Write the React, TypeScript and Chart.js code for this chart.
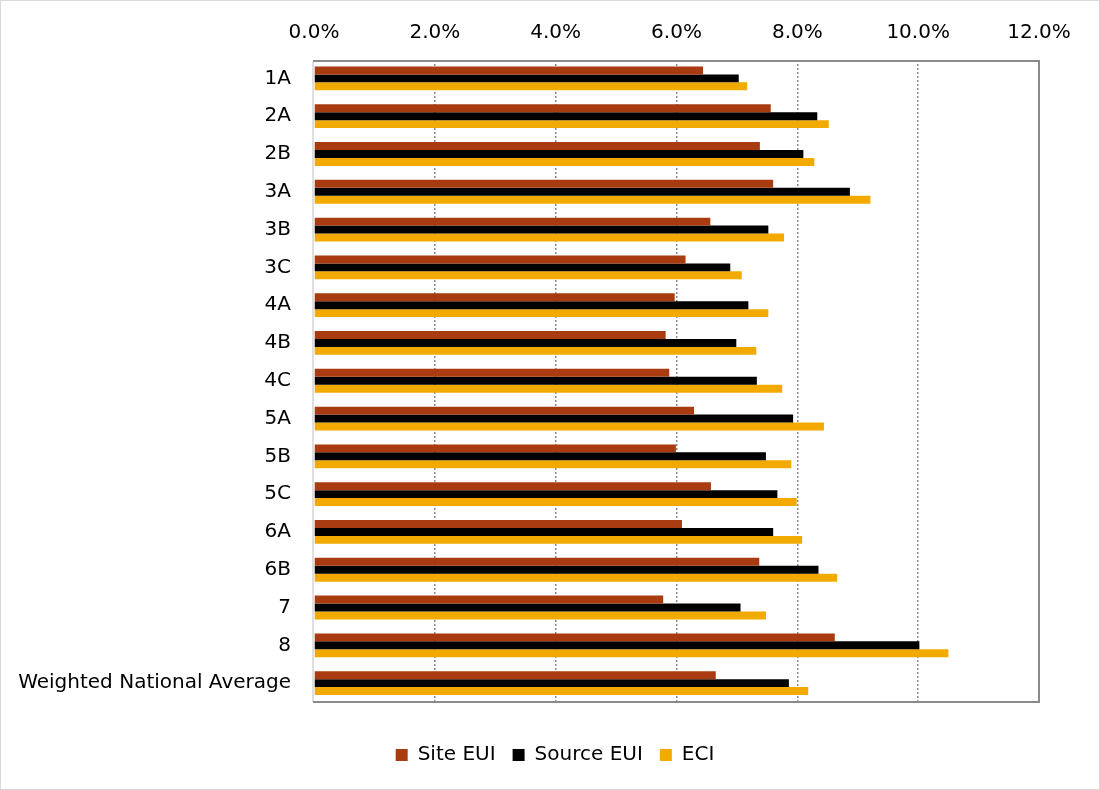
import React, { useEffect, useRef } from "react";
import { Chart, registerables } from "chart.js";

Chart.register(...registerables);

const categories = [
  "1A", "2A", "2B", "3A", "3B", "3C", "4A", "4B", "4C",
  "5A", "5B", "5C", "6A", "6B", "7", "8", "Weighted National Average",
];
const siteEUI = [6.44, 7.56, 7.38, 7.6, 6.56, 6.15, 5.97, 5.82, 5.88, 6.29, 5.99, 6.57, 6.09, 7.37, 5.78, 8.62, 6.65];
const sourceEUI = [7.03, 8.33, 8.1, 8.87, 7.52, 6.89, 7.19, 6.99, 7.33, 7.93, 7.48, 7.67, 7.6, 8.35, 7.06, 10.02, 7.86];
const eci = [7.17, 8.52, 8.28, 9.21, 7.78, 7.08, 7.52, 7.32, 7.75, 8.44, 7.9, 7.99, 8.08, 8.66, 7.48, 10.5, 8.18];
const seriesNames = ["Site EUI", "Source EUI", "ECI"];
const seriesColors = ["#A93B10", "#000000", "#F2AA00"];
const xMin = 0;
const xMax = 12;
const xStep = 2;

const FONT = "'DejaVu Sans', sans-serif";
const LEGEND_SHIFT = 29;

const framePlugin = {
  id: "frame",
  afterLayout(chart: any) {
    const lg = chart.legend;
    if (lg) {
      lg.left += LEGEND_SHIFT;
      lg.right += LEGEND_SHIFT;
    }
  },
  beforeDraw(chart: any) {
    const { ctx, width, height } = chart;
    ctx.save();
    ctx.fillStyle = "#ffffff";
    ctx.fillRect(0, 0, width, height);
    ctx.strokeStyle = "#d9d9d9";
    ctx.lineWidth = 1;
    ctx.strokeRect(0.5, 0.5, width - 1, height - 1);
    ctx.restore();
  },
  afterDatasetsDraw(chart: any) {
    const { ctx, chartArea } = chart;
    const { left, right, bottom } = chartArea;
    const top = chartArea.top + 1.5;
    ctx.save();
    ctx.strokeStyle = "#d4d4d4";
    ctx.lineWidth = 1.5;
    ctx.beginPath();
    ctx.moveTo(left - 1, top);
    ctx.lineTo(left - 1, bottom);
    ctx.stroke();
    ctx.strokeStyle = "#8a8a8a";
    ctx.lineWidth = 2;
    ctx.beginPath();
    ctx.moveTo(left - 1, top);
    ctx.lineTo(right, top);
    ctx.lineTo(right, bottom);
    ctx.lineTo(left - 1, bottom);
    ctx.stroke();
    ctx.restore();
  },
};

export default function App() {
  const canvasRef = useRef<HTMLCanvasElement | null>(null);

  useEffect(() => {
    if (!canvasRef.current) return;
    const seriesData = [siteEUI, sourceEUI, eci];
    const chart = new Chart(canvasRef.current, {
      type: "bar",
      data: {
        labels: categories,
        datasets: seriesNames.map((name, i) => ({
          label: name,
          data: seriesData[i],
          backgroundColor: seriesColors[i],
          borderColor: seriesColors[i],
          borderWidth: 0,
          categoryPercentage: 0.63,
          barPercentage: 1.0,
        })),
      },
      options: {
        indexAxis: "y",
        animation: false,
        responsive: false,
        devicePixelRatio: 1,
        layout: { padding: { left: 13, right: 61, top: 0, bottom: 15 } },
        scales: {
          x: {
            position: "top",
            min: xMin,
            max: xMax,
            ticks: {
              stepSize: xStep,
              callback: (v: any) => Number(v).toFixed(1) + "%",
              font: { family: FONT, size: 20 },
              color: "#000000",
              padding: 15,
            },
            grid: {
              color: (ctx: any) =>
                ctx.tick && (ctx.tick.value === xMin || ctx.tick.value === xMax)
                  ? "rgba(0,0,0,0)"
                  : "#8a8a8a",
              lineWidth: 1.5,
              drawTicks: false,
            },
            border: { display: false, dash: [2, 2] },
            afterFit: (s: any) => {
              s.height = 59.5;
            },
          },
          x2: {
            type: "linear",
            position: "bottom",
            display: true,
            grid: { display: false, drawTicks: false },
            ticks: { display: false },
            border: { display: false },
            afterFit: (s: any) => {
              s.height = 26;
            },
          },
          y: {
            ticks: {
              font: { family: FONT, size: 20 },
              color: "#000000",
              padding: 23,
              autoSkip: false,
            },
            grid: { display: false, drawTicks: false },
            border: { display: false },
            afterFit: (s: any) => {
              s.width = 301;
            },
          },
        },
        plugins: {
          legend: {
            position: "bottom",
            labels: {
              boxWidth: 12,
              boxHeight: 12,
              padding: 17,
              color: "#000000",
              font: { family: FONT, size: 20 },
            },
          },
          tooltip: { enabled: false },
        },
      },
      plugins: [framePlugin],
    } as any);
    return () => chart.destroy();
  }, []);

  return (
    <div style={{ position: "absolute", left: 0, top: 0, width: 1100, height: 790 }}>
      <canvas ref={canvasRef} width={1100} height={790} style={{ width: 1100, height: 790, display: "block" }} />
    </div>
  );
}
